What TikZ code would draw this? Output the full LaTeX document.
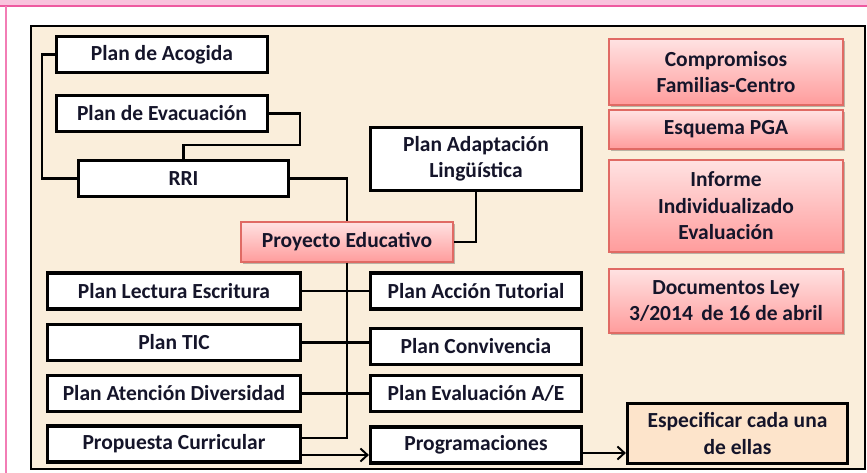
\documentclass[tikz,border=0pt]{standalone}
\usepackage{fontspec}
\setmainfont{Carlito}
\usetikzlibrary{arrows.meta,shadows}
\definecolor{cream}{HTML}{FAEEDB}
\definecolor{peach}{HTML}{FDE4CB}
\definecolor{pinktop}{HTML}{FFE2E2}
\definecolor{pinkbot}{HTML}{FF9C9C}
\definecolor{pinkline}{HTML}{E06A64}
\definecolor{txt}{HTML}{15152A}
\definecolor{bandfill}{HTML}{F9C3DD}
\definecolor{bandline}{HTML}{EE5AA0}
\definecolor{sideline}{HTML}{F27DB5}
\tikzset{
  base/.style={rectangle, inner sep=0pt, align=center, text=txt,
    font=\fontsize{21.5}{26.5}\selectfont\bfseries},
  wbox/.style={base, draw=black, line width=3.2pt, fill=white, minimum height=36pt},
  pbox/.style={base, draw=pinkline, line width=1.3pt, top color=pinktop, bottom color=pinkbot,
    drop shadow={shadow xshift=1.5pt, shadow yshift=-2pt, opacity=0.25, fill=black}},
  ebox/.style={base, draw=black, line width=3.2pt, fill=peach},
  conn/.style={draw=black, line width=2.7pt},
  arr/.style={conn, -{Straight Barb[length=7pt,width=13pt,line width=2pt]}}
}
\begin{document}
\begin{tikzpicture}[x=1pt,y=-1pt]
\useasboundingbox (0,0) rectangle (867,473);
% page decorations
\fill[bandfill] (0,0) rectangle (867,5);
\draw[bandline, line width=2pt] (0,6) -- (867,6);
\draw[sideline, line width=2pt] (6,6) -- (6,473);
% frame
\draw[line width=2.5pt, fill=cream] (31,26) rectangle (865,469);
% left / middle boxes
\node[wbox, minimum width=211pt] (acog) at (162,54.5) {Plan de Acogida};
\node[wbox, minimum width=211pt] (evac) at (162,113.5) {Plan de Evacuación};
\node[wbox, minimum width=210pt] (rri) at (183.5,178.5) {RRI};
\node[wbox, minimum width=211pt, minimum height=63pt] (adapt) at (476,159) {Plan Adaptación\\Lingüística};
\node[pbox, minimum width=212pt, minimum height=40pt] (proy) at (347,242) {Proyecto Educativo};
\node[wbox, minimum width=253pt] (lect) at (174,291) {Plan Lectura Escritura};
\node[wbox, minimum width=253pt] (tic) at (174,342.5) {Plan TIC};
\node[wbox, minimum width=253pt] (aten) at (174,393.5) {Plan Atención Diversidad};
\node[wbox, minimum width=253pt] (prop) at (174,444) {Propuesta Curricular};
\node[wbox, minimum width=211pt] (tut) at (476,291) {Plan Acción Tutorial};
\node[wbox, minimum width=211pt] (conv) at (476,346.5) {Plan Convivencia};
\node[wbox, minimum width=211pt] (evalae) at (476,393.5) {Plan Evaluación A/E};
\node[wbox, minimum width=211pt] (progr) at (476,445) {Programaciones};
% right column
\node[pbox, minimum width=234pt, minimum height=66pt] (comp) at (726,72) {Compromisos\\Familias-Centro};
\node[pbox, minimum width=234pt, minimum height=39pt] (pga) at (726,129.5) {Esquema PGA};
\node[pbox, minimum width=234pt, minimum height=92pt] (inf) at (726,206) {Informe\\Individualizado\\Evaluación};
\node[pbox, minimum width=234pt, minimum height=64pt] (docs) at (726,301) {Documentos Ley\\3/2014\, de 16 de abril};
\node[ebox, minimum width=220pt, minimum height=60pt] (espec) at (737.5,433.5) {Especificar cada una\\de ellas};
% connectors
\draw[conn] (acog.west) -- ++(-13,0) |- (rri.west);
\draw[conn] (evac.east) -- ++(31,0) -- ++(0,31.5) -| (rri.north);
\draw[conn] (rri.east) -| (proy.north);
\draw[conn] (adapt.south) |- (proy.east);
\coordinate (pc) at ([yshift=6pt]prop.east);
\draw[conn] (proy.south) |- (pc);
\draw[conn] (lect.east) -- (lect.east -| tut.west);
\draw[conn] (tic.east) -- (tic.east -| conv.west);
\draw[conn] (aten.east) -- (aten.east -| evalae.west);
\coordinate (pa) at ([yshift=-11pt]prop.east);
\draw[arr] (pa) -- (pa -| progr.west);
\coordinate (pb) at ([yshift=-8pt]progr.east);
\draw[arr] (pb) -- (pb -| espec.west);
\end{tikzpicture}
\end{document}
